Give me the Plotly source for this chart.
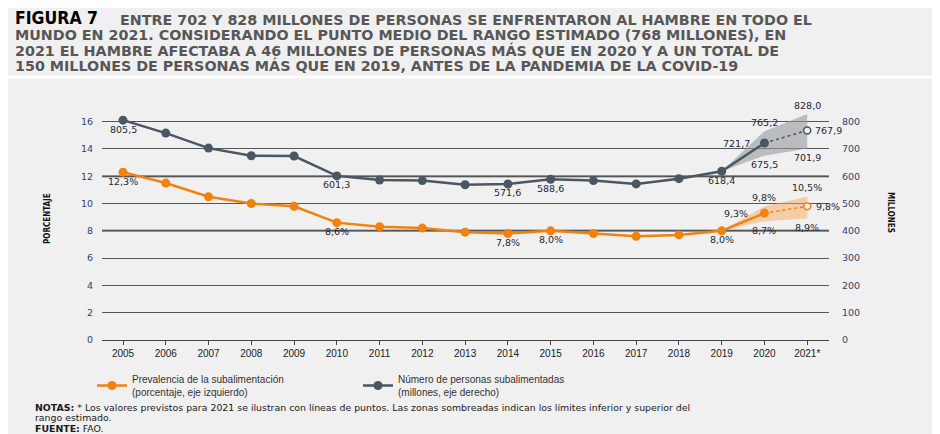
import plotly.graph_objects as go

# ---------------- data ----------------
years = list(range(2005, 2022))
year_labels = [str(y) for y in years[:-1]] + ["2021*"]
pou = [12.3, 11.5, 10.5, 10.0, 9.8, 8.6, 8.3, 8.2, 7.9, 7.8, 8.0, 7.8, 7.6, 7.7, 8.0, 9.3, 9.8]
people = [805.5, 758, 703, 675, 674, 601.3, 586, 584, 569, 571.6, 588.6, 584, 572, 591, 618.4, 721.7, 767.9]
band_years = [2019, 2020, 2021]
pou_low = [8.0, 8.7, 8.9]
pou_high = [8.0, 9.8, 10.5]
people_low = [618.4, 675.5, 701.9]
people_high = [618.4, 765.2, 828.0]

left_ticks = [0, 2, 4, 6, 8, 10, 12, 14, 16]
right_ticks = [0, 100, 200, 300, 400, 500, 600, 700, 800]

# labelled points: (year, where)
pou_labels = [(2005, "below"), (2010, "below"), (2014, "below"), (2015, "below"),
              (2019, "below"), (2020, "left"), (2021, "right")]
people_labels = [(2005, "below"), (2010, "below"), (2014, "below"), (2015, "below"),
                 (2019, "below"), (2020, "left"), (2021, "right")]

ORANGE = "#f0820f"
GRAY = "#4b5663"
BG = "#f0f0f0"
LABEL_COLOR = "#1f2838"

# ---------------- geometry (page pixels; the page body adds an 8px offset) ----------------
OFF = 8
W, H = 940, 434
PL, PR, PT, PB = 102, 829, 108, 340          # plot area in page pixels
ML, MR, MT, MB = PL - OFF, W - PR, PT - OFF, H - PB
FW, FH = W - OFF, H - OFF
PW, PH = PR - PL, PB - PT


def xp(px):
    return (px - PL) / PW


def yp(py):
    return (PB - py) / PH


def fmt(v, pct=False):
    s = f"{v:.1f}".replace(".", ",")
    return s + ("%" if pct else "")


fig = go.Figure()

# bands
fig.add_trace(go.Scatter(
    x=band_years + band_years[::-1], y=people_high + people_low[::-1],
    fill="toself", fillcolor="rgba(150,153,160,0.6)", line=dict(width=0),
    mode="lines", yaxis="y2", showlegend=False, hoverinfo="skip"))
fig.add_trace(go.Scatter(
    x=band_years + band_years[::-1], y=pou_high + pou_low[::-1],
    fill="toself", fillcolor="rgba(248,170,95,0.5)", line=dict(width=0),
    mode="lines", showlegend=False, hoverinfo="skip"))

# dotted projections
fig.add_trace(go.Scatter(
    x=years[-2:], y=people[-2:], mode="lines", yaxis="y2",
    line=dict(color=GRAY, width=1.5, dash="dot"), showlegend=False))
fig.add_trace(go.Scatter(
    x=years[-2:], y=pou[-2:], mode="lines",
    line=dict(color=ORANGE, width=1.5, dash="dot"), showlegend=False))

# main series
fig.add_trace(go.Scatter(
    x=years[:-1], y=pou[:-1], mode="lines+markers",
    name="Prevalencia de la subalimentación<br>(porcentaje, eje izquierdo)",
    line=dict(color=ORANGE, width=2.5), marker=dict(color=ORANGE, size=9)))
fig.add_trace(go.Scatter(
    x=years[:-1], y=people[:-1], mode="lines+markers", yaxis="y2",
    name="Número de personas subalimentadas<br>(millones, eje derecho)",
    line=dict(color=GRAY, width=2.5), marker=dict(color=GRAY, size=9)))

# 2021 open points
fig.add_trace(go.Scatter(
    x=years[-1:], y=people[-1:], mode="markers", yaxis="y2", showlegend=False,
    marker=dict(color=BG, size=7, line=dict(color=GRAY, width=1.5))))
fig.add_trace(go.Scatter(
    x=years[-1:], y=pou[-1:], mode="markers", showlegend=False,
    marker=dict(color=BG, size=7, line=dict(color=ORANGE, width=1.5))))

annotations = []
lab_font = dict(family="DejaVu Sans", size=9.5, color=LABEL_COLOR)


def point_label(x, y, text, where, yref):
    sh = {"below": (0, -9), "above": (0, 9), "left": (-28, 0), "right": (21, 0)}[where]
    annotations.append(dict(x=x, y=y, xref="x", yref=yref, text=text, showarrow=False,
                            xshift=sh[0], yshift=sh[1], font=lab_font,
                            xanchor="center", yanchor="middle"))


for yr, where in pou_labels:
    i = years.index(yr)
    point_label(yr, pou[i], fmt(pou[i], True), where, "y")
for yr, where in people_labels:
    i = years.index(yr)
    point_label(yr, people[i], fmt(people[i]), where, "y2")
for j in (1, 2):
    point_label(band_years[j], pou_high[j], fmt(pou_high[j], True), "above", "y")
    point_label(band_years[j], pou_low[j], fmt(pou_low[j], True), "below", "y")
    point_label(band_years[j], people_high[j], fmt(people_high[j]), "above", "y2")
    point_label(band_years[j], people_low[j], fmt(people_low[j]), "below", "y2")

# title
title_font = dict(family="DejaVu Sans", size=14.3, color="#575757")
annotations.append(dict(xref="paper", yref="paper", x=xp(13), y=yp(18), text="<b>FIGURA 7</b>",
                        showarrow=False, xanchor="left", yanchor="middle",
                        font=dict(family="DejaVu Sans Condensed", size=17.5, color="#000000")))
title_lines = [
    "ENTRE 702 Y 828 MILLONES DE PERSONAS SE ENFRENTARON AL HAMBRE EN TODO EL",
    "MUNDO EN 2021. CONSIDERANDO EL PUNTO MEDIO DEL RANGO ESTIMADO (768 MILLONES), EN",
    "2021 EL HAMBRE AFECTABA A 46 MILLONES DE PERSONAS MÁS QUE EN 2020 Y A UN TOTAL DE",
    "150 MILLONES DE PERSONAS MÁS QUE EN 2019, ANTES DE LA PANDEMIA DE LA COVID-19",
]
title_x = [118, 13, 13, 13]
title_y = [20, 35, 50, 65]
for t, x0, y0 in zip(title_lines, title_x, title_y):
    annotations.append(dict(xref="paper", yref="paper", x=xp(x0), y=yp(y0), text="<b>" + t + "</b>",
                            showarrow=False, xanchor="left", yanchor="middle", font=title_font))

# axis titles
annotations.append(dict(xref="paper", yref="paper", x=xp(47), y=yp(219), text="<b>PORCENTAJE</b>",
                        textangle=-90, showarrow=False, xanchor="center", yanchor="middle",
                        font=dict(family="DejaVu Sans Condensed", size=8, color="#111111")))
annotations.append(dict(xref="paper", yref="paper", x=xp(891), y=yp(212), text="<b>MILLONES</b>",
                        textangle=90, showarrow=False, xanchor="center", yanchor="middle",
                        font=dict(family="DejaVu Sans Condensed", size=8, color="#111111")))

# notes
note_font = dict(family="DejaVu Sans", size=9.4, color="#1a1a1a")
notes = [
    "<b>NOTAS:</b> * Los valores previstos para 2021 se ilustran con líneas de puntos. Las zonas sombreadas indican los límites inferior y superior del",
    "rango estimado.",
    "<b>FUENTE:</b> FAO.",
]
for k, t in enumerate(notes):
    annotations.append(dict(xref="paper", yref="paper", x=xp(33), y=yp(407.5 + 10.3 * k), text=t,
                            showarrow=False, xanchor="left", yanchor="middle", font=note_font))

shapes = [
    dict(type="rect", xref="paper", yref="paper", x0=xp(0), x1=xp(W), y0=yp(75.5), y1=yp(78.5),
         fillcolor="white", line=dict(width=0), layer="below"),
]
for v in (8, 12):
    shapes.append(dict(type="line", xref="paper", yref="y", x0=0, x1=1, y0=v, y1=v,
                       line=dict(color="#8e8e8e", width=2.5), layer="below"))

tick_font = dict(family="DejaVu Sans", size=9.5, color="#34426a")
fig.update_layout(
    width=FW, height=FH, margin=dict(l=ML, r=MR, t=MT, b=MB, autoexpand=False),
    paper_bgcolor=BG, plot_bgcolor=BG,
    xaxis=dict(range=[years[0] - 0.491, years[-1] + 0.509], tickvals=years, ticktext=year_labels,
               showgrid=False, zeroline=False, showline=True, linecolor="#444444", linewidth=1,
               ticks="outside", ticklen=4, tickcolor="#444444",
               tickfont=dict(family="Liberation Sans", size=10, color="#222222")),
    yaxis=dict(range=[0, 17], tickvals=left_ticks, showgrid=True, gridcolor="#555555", gridwidth=1,
               zeroline=False, showline=False, ticks="", tickfont=tick_font, ticklabelstandoff=8),
    yaxis2=dict(range=[0, 850], tickvals=right_ticks, overlaying="y", side="right", showgrid=False,
                zeroline=False, showline=False, ticks="", tickfont=tick_font, ticklabelstandoff=12),
    legend=dict(orientation="h", x=xp(92), y=yp(366), xanchor="left", yanchor="top",
                font=dict(family="Liberation Sans", size=10, color="#333333"),
                bgcolor="rgba(0,0,0,0)", entrywidth=221, entrywidthmode="pixels",
                itemwidth=30),
    annotations=annotations, shapes=shapes, showlegend=True,
)

fig.write_html("out.html")
